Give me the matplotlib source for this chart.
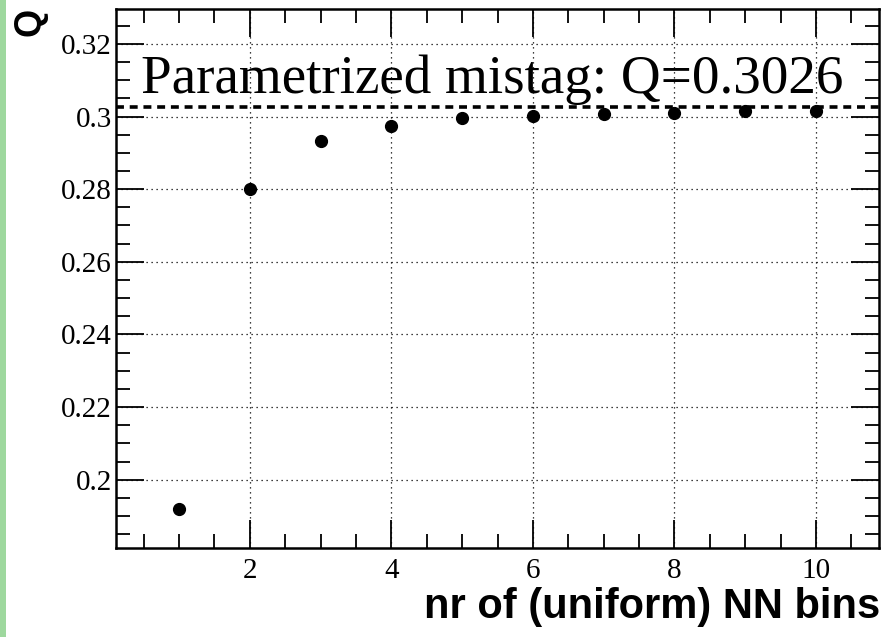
import matplotlib as mpl
import matplotlib.pyplot as plt
from matplotlib.patches import Rectangle
from matplotlib.ticker import MultipleLocator

# 数据
N_BINS = [1, 2, 3, 4, 5, 6, 7, 8, 9, 10]
Q_VALS = [0.1919, 0.2800, 0.2932, 0.2973, 0.2995, 0.3001, 0.3006, 0.3011, 0.3014, 0.3015]
Q_PARAM = 0.3026
LABEL_PARAM = "Parametrized mistag: Q=0.3026"
XLABEL = "nr of (uniform) NN bins"
YLABEL = "Q"
Y_TICKS = [0.2, 0.22, 0.24, 0.26, 0.28, 0.3, 0.32]
Y_TICKLABELS = ["0.2", "0.22", "0.24", "0.26", "0.28", "0.3", "0.32"]

SERIF = "Liberation Serif"
SANS = "Liberation Sans"

fig = plt.figure(figsize=(8.86, 6.37), dpi=100)

# 左侧淡绿色边框（幻灯片背景）
fig.patches.append(Rectangle((0, 0), 6 / 886, 1, transform=fig.transFigure,
                             facecolor="#9ed89e", edgecolor="none"))

ax = fig.add_axes([116 / 886, 1 - 548 / 637, (879 - 116) / 886, (548 - 9) / 637])

ax.plot(N_BINS, Q_VALS, "o", color="black", markersize=8.5, zorder=3)
ax.axhline(Q_PARAM, color="black", lw=2.6, ls=(0, (2.2, 1.6)), zorder=2)

ax.set_xlim(0.11, 10.89)
ax.set_ylim(0.1812, 0.3296)

ax.xaxis.set_major_locator(MultipleLocator(2))
ax.xaxis.set_minor_locator(MultipleLocator(0.5))
ax.yaxis.set_minor_locator(MultipleLocator(0.005))
ax.set_yticks(Y_TICKS)
ax.set_yticklabels(Y_TICKLABELS)

ax.grid(True, which="major", color="black", ls=(0, (1, 3)), lw=0.9)

ax.tick_params(which="both", direction="in", top=True, right=True, width=1.3)
ax.tick_params(which="major", length=20)
ax.tick_params(which="minor", length=10)
ax.tick_params(axis="x", which="major", pad=7)
ax.tick_params(axis="y", which="major", pad=3)
for lbl in ax.get_xticklabels() + ax.get_yticklabels():
    lbl.set_fontfamily(SERIF)
    lbl.set_fontsize(21)
for sp in ax.spines.values():
    sp.set_linewidth(1.8)

ax.text(0.46, 0.3026 + 0.0005, LABEL_PARAM, fontfamily=SERIF, fontsize=39.7,
        ha="left", va="bottom", zorder=4)

fig.text(880 / 886, 1 - 618 / 637, XLABEL, fontfamily=SANS, fontweight="bold",
         fontsize=30, ha="right", va="baseline")
fig.text(30 / 886, 1 - 22 / 637, YLABEL, fontfamily=SANS, fontweight="bold",
         fontsize=26, rotation=90, ha="center", va="center")

fig.savefig("out.png", dpi=100)
